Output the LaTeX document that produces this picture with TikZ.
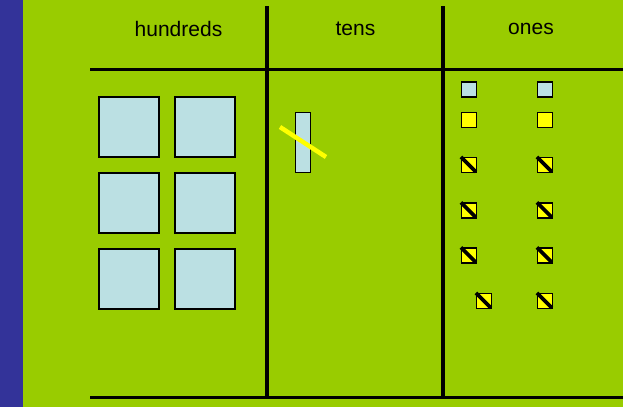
\documentclass[tikz,border=0pt]{standalone}
\usepackage{fontspec}
\setmainfont{Liberation Sans}
\definecolor{bggreen}{HTML}{99CC00}
\definecolor{strip}{HTML}{333399}
\definecolor{unitblue}{HTML}{BBE0E3}
\definecolor{unityellow}{HTML}{FFFF00}
\begin{document}
\begin{tikzpicture}[x=1pt,y=-1pt,
  rule/.style={line width=3.2pt,black},
  hsq/.style={draw=black,line width=2pt,fill=unitblue,minimum size=60pt,inner sep=0pt},
  tenbar/.style={draw=black,line width=1.8pt,fill=unitblue,minimum width=15pt,minimum height=60pt,inner sep=0pt},
  bsq/.style={draw=black,line width=1.8pt,fill=unitblue,minimum size=15pt,inner sep=0pt},
  ysq/.style={draw=black,line width=1.8pt,fill=unityellow,minimum size=15pt,inner sep=0pt},
  slash/.style={line width=3.6pt,black},
  head/.style={font=\fontsize{21}{24}\selectfont,inner sep=0pt}]
\fill[bggreen] (0,0) rectangle (623,407);
\useasboundingbox (0,0) rectangle (623,407);
\fill[strip] (0,0) rectangle (23,407);
% rules
\draw[rule] (90,69.5) -- (623,69.5);
\draw[rule] (90,397.5) -- (623,397.5);
\draw[rule] (267,6) -- (267,399);
\draw[rule] (443,6) -- (443,399);
% headings
\node[head] (hh) at (178.5,29) {hundreds};
\node[head] (ht) at (355.5,29) {tens};
\node[head] (ho) at (531,29) {ones};
% hundreds
\node[hsq] (h1) at (128.5,127) {};
\node[hsq] (h2) at (204.5,127) {};
\node[hsq] (h3) at (128.5,203) {};
\node[hsq] (h4) at (204.5,203) {};
\node[hsq] (h5) at (128.5,279) {};
\node[hsq] (h6) at (204.5,279) {};
% tens
\node[tenbar] (t1) at (303,142.5) {};
\draw[line width=4.5pt,unityellow] (280,127) -- (326,157);
% ones
\node[bsq] (b1) at (469,89.5) {};
\node[bsq] (b2) at (545,89.5) {};
\node[ysq] (y1) at (469,120) {};
\node[ysq] (y2) at (545,120) {};
\foreach \n/\x/\y in {c1/469/165, c2/545/165, c3/469/210.5, c4/545/210.5, c5/469/255.5, c6/545/255.5, c7/484/301, c8/545/301}{
  \node[ysq] (\n) at (\x,\y) {};
  \draw[slash] ([shift={(0.3,0.3)}]\n.north west) -- ([shift={(-1.6,-1.6)}]\n.south east);
}
\end{tikzpicture}
\end{document}
